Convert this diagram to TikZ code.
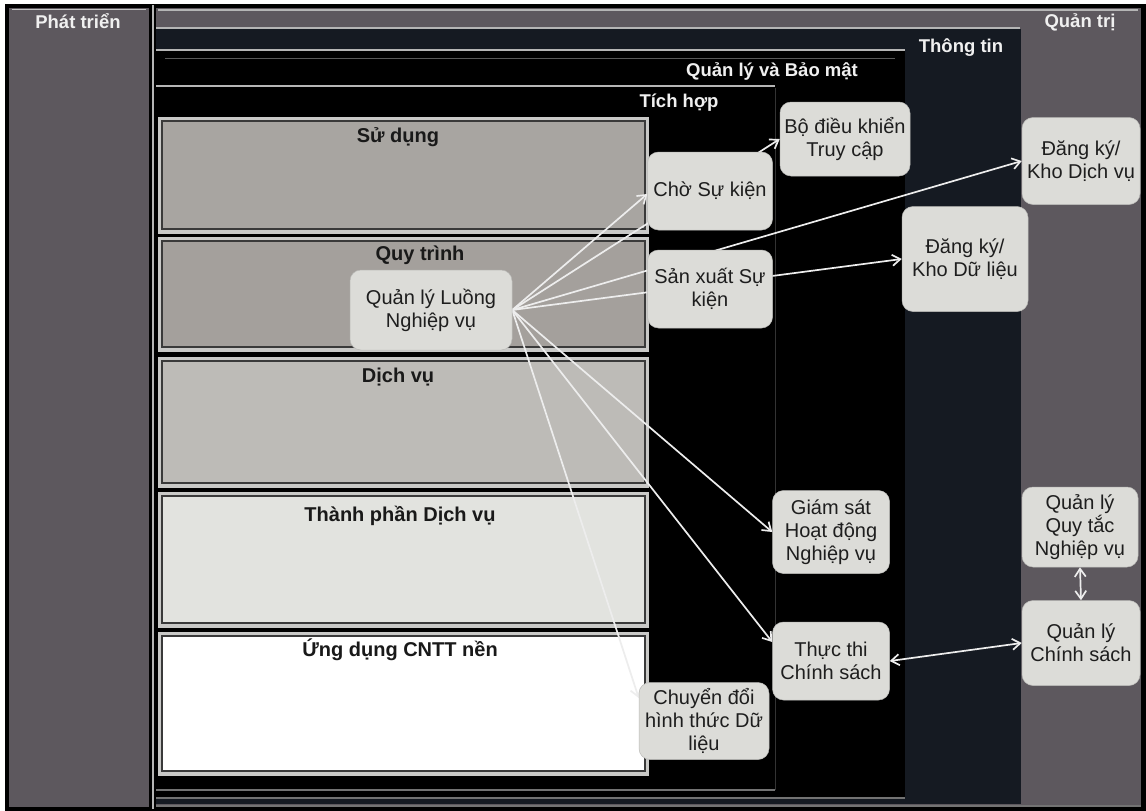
\documentclass[tikz,border=0pt]{standalone}
\usepackage{fontspec}
\setmainfont{Liberation Sans}
\usetikzlibrary{arrows.meta}

\definecolor{panelgray}{HTML}{5D585E}
\definecolor{infonavy}{HTML}{151A22}
\definecolor{bevel}{HTML}{C9C9C7}
\definecolor{bevelDark}{HTML}{3A3A3A}
\definecolor{useFill}{HTML}{A8A5A1}
\definecolor{procFill}{HTML}{A4A09C}
\definecolor{servFill}{HTML}{BDBBB7}
\definecolor{compFill}{HTML}{E2E3DF}
\definecolor{appFill}{HTML}{FFFFFF}
\definecolor{nodefill}{HTML}{DCDCD8}
\definecolor{nodetext}{HTML}{1E1E1E}
\definecolor{wirecol}{HTML}{EDEDED}
\definecolor{sepline}{HTML}{B5B5B5}

\pgfdeclarelayer{back}
\pgfdeclarelayer{mid}
\pgfsetlayers{back,mid,main}

\begin{document}
\begin{tikzpicture}[x=1pt,y=-1pt,
  box/.style={rectangle, rounded corners=11pt, fill=nodefill, draw=nodefill!85!black,
    line width=0.5pt, align=center, text=nodetext, inner sep=2pt,
    font=\fontsize{20}{23}\selectfont},
  header/.style={text=white!94!black, font=\bfseries\fontsize{18.5}{21}\selectfont, inner sep=0pt},
  layerlabel/.style={text=black!90, font=\bfseries\fontsize{20}{23}\selectfont, inner sep=0pt},
  wire/.style={draw=wirecol, line width=1.7pt, -{Straight Barb[length=8pt,width=11pt]}},
  twoway/.style={draw=wirecol, line width=1.7pt,
    {Straight Barb[length=8pt,width=11pt]}-{Straight Barb[length=8pt,width=11pt]}},
  sep/.style={draw=sepline, line width=1.6pt},
]
\useasboundingbox (0,0) rectangle (1146,811);

% ---------- panels ----------
\begin{pgfonlayer}{back}
  \fill[white] (0,0) rectangle (1146,811);
  \fill[black] (5,4) rectangle (1146,811);

  % development column
  \fill[panelgray] (9,8) rectangle (149,807);
  \draw[sep, draw=sepline!80] (12,9.5) -- (146,9.5);
  \draw[sep] (153,5) -- (153,809);

  % governance panel
  \fill[panelgray] (156,8) rectangle (1141,806);
  \draw[sep] (158,10) -- (1138,10);

  % information panel
  \draw[sep] (156,28) -- (1020,28);
  \fill[infonavy] (156,29) rectangle (1021,804);

  % management & security panel
  \draw[sep] (156,50) -- (905,50);
  \fill[black] (156,51) rectangle (905,798);
  \draw[draw=black!65, line width=1pt] (165,58) -- (895,58);

  % integration panel
  \draw[sep] (156,86) -- (775,86);
  \fill[black] (156,87) rectangle (775,790);
  \draw[draw=black!80, line width=0.8pt] (775,88) -- (775,790);

  % panel bottoms
  \draw[draw=black!55, line width=1.4pt] (156,790) -- (775,790);
  \draw[draw=black!55, line width=1.4pt] (156,798) -- (905,798);
  \draw[draw=black!55, line width=1.4pt] (156,806) -- (1141,806);

  % layers
  \foreach \top/\bot/\col in {117/234/useFill, 237/352/procFill, 357/488/servFill,
                              492/628/compFill, 632/776/appFill}{
    \fill[bevel] (158,\top) rectangle (649,\bot);
    \filldraw[fill=\col, draw=bevelDark, line width=1.3pt] (162,\top+4) rectangle (645,\bot-5);
  }
\end{pgfonlayer}

% ---------- headings ----------
\node[header] (hdev)  at (78,21)   {Phát triển};
\node[header] (hgov)  at (1080,22) {Quản trị};
\node[header] (hinfo) at (961,48)  {Thông tin};
\node[header] (hsec)  at (772,72)  {Quản lý và Bảo mật};
\node[header] (hint)  at (679,103) {Tích hợp};

\node[layerlabel] (luse)  at (398,137) {Sử dụng};
\node[layerlabel] (lproc) at (420,255) {Quy trình};
\node[layerlabel] (lserv) at (398,377) {Dịch vụ};
\node[layerlabel] (lcomp) at (400,516) {Thành phần Dịch vụ};
\node[layerlabel] (lapp)  at (400,650) {Ứng dụng CNTT nền};

% ---------- components ----------
\node[box, minimum width=162pt, minimum height=80pt] (ql)  at (431,310)  {Quản lý Luồng\\Nghiệp vụ};
\node[box, minimum width=125pt, minimum height=78pt] (cho) at (710,191)  {Chờ Sự kiện};
\node[box, minimum width=125pt, minimum height=78pt] (sx)  at (710,289)  {Sản xuất Sự\\kiện};
\node[box, minimum width=130pt, minimum height=74pt] (bdk) at (845,139)  {Bộ điều khiển\\Truy cập};
\node[box, minimum width=118pt, minimum height=87pt] (kdv) at (1081,161) {Đăng ký/\\Kho Dịch vụ};
\node[box, minimum width=126pt, minimum height=105pt] (kdl) at (965,259) {Đăng ký/\\Kho Dữ liệu};
\node[box, minimum width=117pt, minimum height=83pt] (gs)  at (831,532)  {Giám sát\\Hoạt động\\Nghiệp vụ};
\node[box, minimum width=116pt, minimum height=80pt] (qt)  at (1080,527) {Quản lý\\Quy tắc\\Nghiệp vụ};
\node[box, minimum width=118pt, minimum height=85pt] (cs)  at (1081,643) {Quản lý\\Chính sách};
\node[box, minimum width=117pt, minimum height=78pt] (tt)  at (831,661)  {Thực thi\\Chính sách};
\node[box, minimum width=130pt, minimum height=77pt] (cd)  at (704,721)  {Chuyển đổi\\hình thức Dữ\\liệu};

% ---------- connectors ----------
\begin{pgfonlayer}{mid}
  \draw[wire] (ql.east) -- ([yshift=-3pt]cho.west);
  \draw[wire] (ql.east) -- (bdk.west);
  \draw[wire] (ql.east) -- (kdv.west);
  \draw[wire] (ql.east) -- (kdl.west);
  \draw[wire] (ql.east) -- (gs.west);
  \draw[wire] (ql.east) -- ([yshift=19pt]tt.west);
  \draw[wire] (ql.east) -- ([yshift=23pt]cd.west);
  \draw[twoway] (tt.east) -- (cs.west);
  \draw[twoway] (qt.south) -- (cs.north);
\end{pgfonlayer}
\end{tikzpicture}
\end{document}
